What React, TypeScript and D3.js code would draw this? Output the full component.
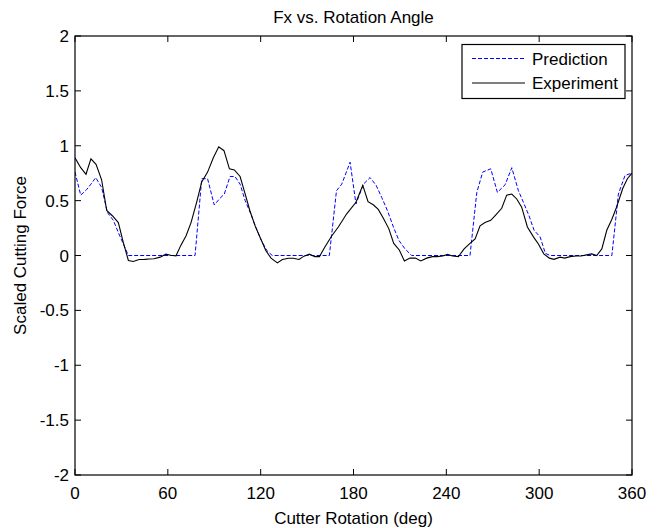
import React from "react";
import * as d3 from "d3";

const xTicks = [0, 60, 120, 180, 240, 300, 360];
const yTicks = [-2, -1.5, -1, -0.5, 0, 0.5, 1, 1.5, 2];

const expAngles = [
  0, 3.7, 7.1, 10.3, 13.6, 17.2, 20.5, 24.3, 28, 31.2, 34.5, 37.7, 41.4, 45, 48, 51, 55, 58.8, 61.8, 65.3,
  68.3, 71.8, 75, 78.6, 81.9, 85.7, 89.4, 92.9, 96.3, 99.8, 103, 106.7, 110, 113, 116.4, 119.6, 123.3,
  126.7, 130.8, 134, 138, 141, 144.8, 148, 151.5, 155, 158, 161.6, 166, 170.2, 175.6, 181.6, 186, 189.4,
  193, 196, 199.3, 202.8, 206, 209.6, 212.9, 216.5, 220, 223.5, 227.3, 231, 234, 237.7, 240.7, 244, 247.8,
  251.5, 255.3, 258.6, 261.8, 265, 268.7, 272, 275.8, 279, 282.3, 285.5, 288.7, 292.4, 296.3, 299.5, 303,
  306.6, 309.6, 313.5, 316.5, 320, 323.8, 327, 330.7, 334, 337.2, 340.5, 343.7, 347, 350, 354, 357, 360,
];
const expValues = [
  0.89, 0.8, 0.74, 0.88, 0.83, 0.69, 0.41, 0.36, 0.3, 0.12, -0.045, -0.055, -0.036, -0.035, -0.032, -0.03,
  -0.015, 0.012, 0.003, -0.003, 0.09, 0.18, 0.3, 0.485, 0.67, 0.76, 0.89, 0.99, 0.955, 0.79, 0.78, 0.72,
  0.56, 0.41, 0.27, 0.167, 0.045, -0.024, -0.067, -0.036, -0.025, -0.025, -0.036, -0.006, 0.012, -0.01,
  -0.01, 0.08, 0.18, 0.26, 0.38, 0.485, 0.64, 0.49, 0.46, 0.42, 0.34, 0.245, 0.11, 0.05, -0.05, -0.024,
  -0.024, -0.05, -0.024, -0.01, -0.01, -0.005, 0.01, -0.005, -0.01, 0.06, 0.11, 0.15, 0.27, 0.3, 0.32,
  0.37, 0.43, 0.55, 0.56, 0.515, 0.44, 0.26, 0.17, 0.105, 0.015, -0.024, -0.035, -0.015, -0.024, -0.01,
  -0.005, -0.005, 0.006, 0.015, 0.0, 0.06, 0.23, 0.33, 0.44, 0.61, 0.7, 0.75,
];

const predAngles = [
  0, 3.7, 7.5, 10.3, 13.4, 17.2, 21, 24.8, 28, 31.2, 34.5, 77.6, 81.9, 85.7, 90, 93.3, 96.5, 100.2, 103.4,
  106.7, 110, 113.6, 116.8, 120, 124, 127.5, 164.4, 169, 172.4, 177.8, 181.6, 186.4, 190.7, 194.6, 198.2,
  201.9, 205.8, 209.4, 213.3, 217.6, 255.3, 259.7, 263.5, 268.7, 273, 278, 282.3, 286.6, 289.8, 293.5,
  296.7, 300.6, 304, 307, 347, 351.2, 355.5, 360,
];
const predValues = [
  0.76, 0.55, 0.6, 0.65, 0.71, 0.62, 0.39, 0.32, 0.21, 0.106, 0, 0, 0.7, 0.7, 0.46, 0.515, 0.56, 0.72, 0.72,
  0.65, 0.5, 0.38, 0.26, 0.15, 0.045, 0, 0, 0.59, 0.65, 0.85, 0.47, 0.65, 0.71, 0.64, 0.53, 0.41, 0.26,
  0.136, 0.06, 0, 0, 0.575, 0.76, 0.79, 0.575, 0.645, 0.8, 0.59, 0.485, 0.36, 0.23, 0.17, 0.02, 0, 0, 0.56,
  0.73, 0.75,
];

const seriesNames = ["Prediction", "Experiment"];
const titleText = "Fx vs. Rotation Angle";
const xLabel = "Cutter Rotation (deg)";
const yLabel = "Scaled Cutting Force";

const W = 661;
const H = 528;
const L = 75;
const R = 632;
const T = 36;
const B = 475;
const FONT = "Helvetica, Arial, 'Liberation Sans', sans-serif";
const FS = 17;

export default function App() {
  const x = d3.scaleLinear().domain([0, 360]).range([L, R]);
  const y = d3.scaleLinear().domain([-2, 2]).range([B, T]);

  const expPts: [number, number][] = expAngles.map((a, i) => [a, expValues[i]]);
  const predPts: [number, number][] = predAngles.map((a, i) => [a, predValues[i]]);
  const line = d3
    .line<[number, number]>()
    .x((d) => x(d[0]))
    .y((d) => y(d[1]));

  const tl = 6;

  return (
    <svg
      width={W}
      height={H}
      style={{ position: "absolute", left: 0, top: 0, background: "#fff" }}
      fontFamily={FONT}
    >
      <rect x={0} y={0} width={W} height={H} fill="#fff" />
      <text x={(L + R) / 2} y={23} textAnchor="middle" fontSize={FS} fill="#000">
        {titleText}
      </text>
      <g clipPath="url(#clip)">
        <path d={line(predPts) || ""} fill="none" stroke="#0000ff" strokeWidth={1} strokeDasharray="4,2" />
        <path d={line(expPts) || ""} fill="none" stroke="#000" strokeWidth={1.1} />
      </g>
      <defs>
        <clipPath id="clip">
          <rect x={L} y={T} width={R - L} height={B - T} />
        </clipPath>
      </defs>
      {xTicks.map((t) => (
        <g key={"x" + t}>
          <line x1={x(t)} x2={x(t)} y1={B} y2={B - tl} stroke="#000" />
          <line x1={x(t)} x2={x(t)} y1={T} y2={T + tl} stroke="#000" />
          <text x={x(t)} y={499} textAnchor="middle" fontSize={FS} fill="#000">
            {t}
          </text>
        </g>
      ))}
      {yTicks.map((t) => (
        <g key={"y" + t}>
          <line x1={L} x2={L + tl} y1={y(t)} y2={y(t)} stroke="#000" />
          <line x1={R} x2={R - tl} y1={y(t)} y2={y(t)} stroke="#000" />
          <text x={69} y={y(t) + 6} textAnchor="end" fontSize={FS} fill="#000">
            {String(t)}
          </text>
        </g>
      ))}
      <rect x={L} y={T} width={R - L} height={B - T} fill="none" stroke="#000" strokeWidth={1.2} />
      <text x={(L + R) / 2} y={524} textAnchor="middle" fontSize={FS} fill="#000">
        {xLabel}
      </text>
      <text
        transform={`translate(26, ${(T + B) / 2}) rotate(-90)`}
        textAnchor="middle"
        fontSize={FS}
        fill="#000"
      >
        {yLabel}
      </text>
      <g>
        <rect x={462} y={44.5} width={163} height={54} fill="#fff" stroke="#000" strokeWidth={1.2} />
        <line x1={472} x2={525} y1={58.5} y2={58.5} stroke="#0000ff" strokeWidth={1} strokeDasharray="4,2" />
        <line x1={472} x2={525} y1={83} y2={83} stroke="#000" strokeWidth={1.1} />
        <text x={532} y={64.5} fontSize={FS} fill="#000">
          {seriesNames[0]}
        </text>
        <text x={532} y={89} fontSize={FS} fill="#000">
          {seriesNames[1]}
        </text>
      </g>
    </svg>
  );
}
